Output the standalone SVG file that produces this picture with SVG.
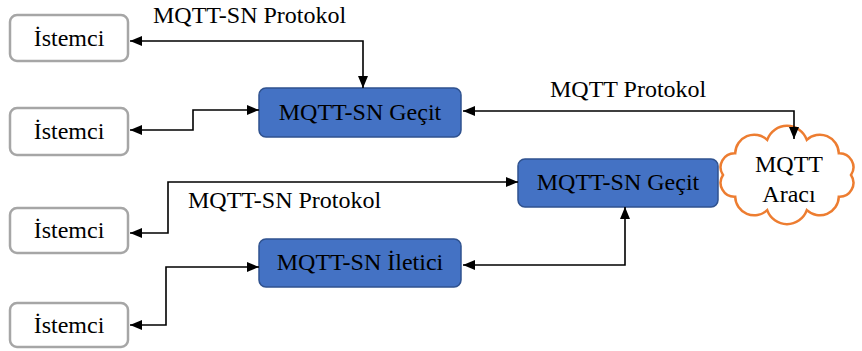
<svg xmlns="http://www.w3.org/2000/svg" width="862" height="351" viewBox="0 0 862 351">
<style>
.c{text-anchor:middle}
.cb{fill:#fff;stroke:#a6a6a6;stroke-width:2.5}
.gb{fill:#4472c4;stroke:#2f528f;stroke-width:1.5}
.ln{fill:none;stroke:#000;stroke-width:1.6}
</style>
<defs>
<marker id="ae" viewBox="0 0 12 10" refX="12" refY="5" markerWidth="12" markerHeight="10" markerUnits="userSpaceOnUse" orient="auto">
<path d="M0,0 L12,5 L0,10 Z" fill="#000"/>
</marker>
<marker id="as" viewBox="0 0 12 10" refX="0" refY="5" markerWidth="12" markerHeight="10" markerUnits="userSpaceOnUse" orient="auto">
<path d="M12,0 L0,5 L12,10 Z" fill="#000"/>
</marker>
</defs>
<rect width="862" height="351" fill="#fff"/>
<g id="client1"><rect class="cb" x="10" y="15" width="118" height="46" rx="7"/><text class="c" x="69" y="46" font-family="Liberation Serif" font-size="24">İstemci</text></g>
<g id="client2"><rect class="cb" x="10" y="108" width="118" height="47" rx="7"/><text class="c" x="69" y="139" font-family="Liberation Serif" font-size="24">İstemci</text></g>
<g id="client3"><rect class="cb" x="10" y="208" width="118" height="45" rx="7"/><text class="c" x="69" y="238" font-family="Liberation Serif" font-size="24">İstemci</text></g>
<g id="client4"><rect class="cb" x="10" y="303" width="118" height="44" rx="7"/><text class="c" x="69" y="333" font-family="Liberation Serif" font-size="24">İstemci</text></g>
<g id="gateway1"><rect class="gb" x="259" y="88" width="202" height="49" rx="7"/><text class="c" x="360" y="120" font-family="Liberation Serif" font-size="24">MQTT-SN Geçit</text></g>
<g id="gateway2"><rect class="gb" x="518" y="159" width="200" height="48" rx="7"/><text class="c" x="618" y="190" font-family="Liberation Serif" font-size="24">MQTT-SN Geçit</text></g>
<g id="forwarder"><rect class="gb" x="259" y="239" width="202" height="48" rx="7"/><text class="c" x="360" y="270" font-family="Liberation Serif" font-size="24">MQTT-SN İletici</text></g>
<g id="broker">
<path d="M723,175 A14,14 0 0 1 735.2,153.2 A19,19 0 0 1 767.2,139.8 A21,21 0 0 1 806.8,139.8 A19,19 0 0 1 838.8,153.2 A14,14 0 0 1 851,175 A14,14 0 0 1 838.8,196.8 A19,19 0 0 1 806.8,210.2 A21,21 0 0 1 767.2,210.2 A19,19 0 0 1 735.2,196.8 A14,14 0 0 1 723,175 Z" fill="#fff" stroke="#ed7d31" stroke-width="2.5"/>
<text class="c" x="789" y="172" font-family="Liberation Serif" font-size="24">MQTT</text>
<text class="c" x="789" y="202" font-family="Liberation Serif" font-size="24">Aracı</text>
</g>
<g id="connectors">
<path class="ln" d="M130,41 H363 V88" marker-start="url(#as)" marker-end="url(#ae)"/>
<path class="ln" d="M130,130 H193 V110 H259" marker-start="url(#as)" marker-end="url(#ae)"/>
<path class="ln" d="M463,111 H794 V139" marker-start="url(#as)" marker-end="url(#ae)"/>
<path class="ln" d="M130,233 H168 V182 H518" marker-start="url(#as)" marker-end="url(#ae)"/>
<path class="ln" d="M130,325 H166 V267 H259" marker-start="url(#as)" marker-end="url(#ae)"/>
<path class="ln" d="M463,265 H625 V207" marker-start="url(#as)" marker-end="url(#ae)"/>
</g>
<g id="labels">
<text x="153" y="23" font-family="Liberation Serif" font-size="24">MQTT-SN Protokol</text>
<text x="550" y="97" font-family="Liberation Serif" font-size="24">MQTT Protokol</text>
<text x="188" y="208" font-family="Liberation Serif" font-size="24">MQTT-SN Protokol</text>
</g>
</svg>
